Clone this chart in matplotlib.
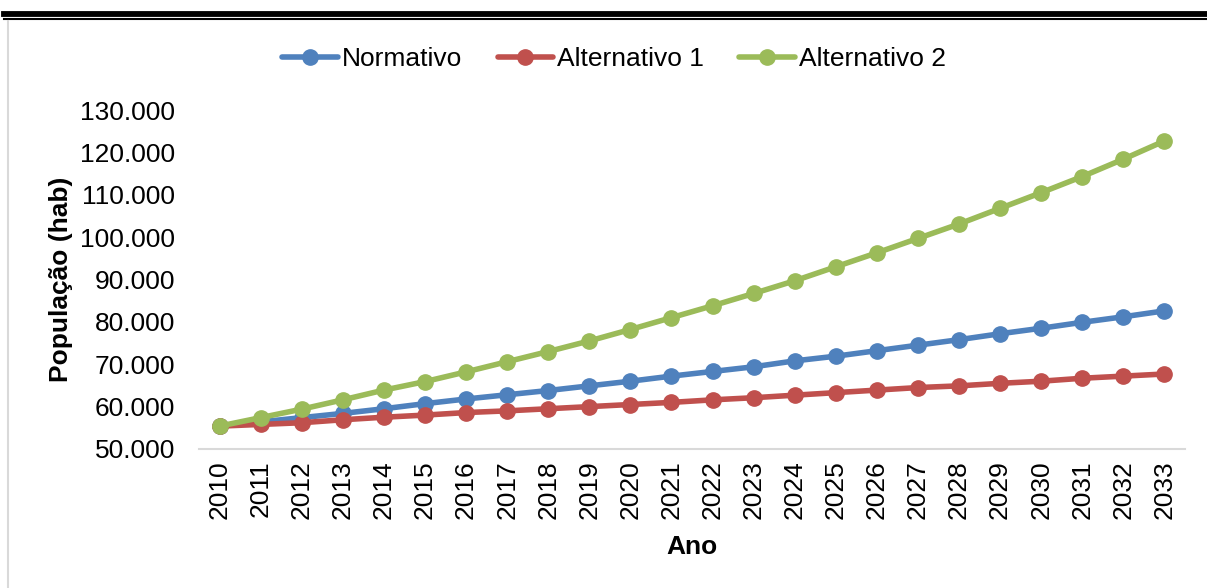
import matplotlib
matplotlib.use("Agg")
import matplotlib.pyplot as plt
from matplotlib.lines import Line2D

plt.rcParams['font.family'] = ['Liberation Sans', 'DejaVu Sans']

anos = list(range(2010, 2034))
normativo = [55.4, 56.4, 57.4, 58.4, 59.5, 60.7, 61.8, 62.8, 63.8, 64.9,
             66.0, 67.2, 68.3, 69.4, 70.8, 71.9, 73.2, 74.5, 75.8, 77.2,
             78.5, 79.9, 81.2, 82.6]
alternativo1 = [55.4, 55.8, 56.2, 56.9, 57.5, 58.0, 58.6, 59.0, 59.5, 60.0,
                60.5, 61.0, 61.6, 62.1, 62.7, 63.3, 63.9, 64.5, 64.9, 65.5,
                66.0, 66.7, 67.2, 67.7]
alternativo2 = [55.4, 57.4, 59.4, 61.6, 63.9, 65.9, 68.2, 70.6, 73.0, 75.5,
                78.2, 81.0, 83.8, 86.7, 89.7, 93.0, 96.3, 99.7, 103.1, 106.8,
                110.5, 114.3, 118.4, 122.7]
series = [("Normativo", normativo, "#4F81BD"),
          ("Alternativo 1", alternativo1, "#C0504D"),
          ("Alternativo 2", alternativo2, "#9BBB59")]
y_ticks = list(range(50000, 130001, 10000))

W, H = 1207, 588
fig = plt.figure(figsize=(W / 100, H / 100), dpi=100)
ax = fig.add_axes([199 / W, 1 - 449 / H, (1185 - 199) / W, (449 - 110) / H])

x = list(range(len(anos)))
for nome, vals, cor in series:
    ax.plot(x, [v * 1000 for v in vals], color=cor, lw=4.0, marker='o',
            markersize=11, label=nome, solid_capstyle='round', zorder=3)

ax.set_xlim(-0.5, len(anos) - 0.5)
ax.set_ylim(50000, 130000)
ax.set_yticks(y_ticks)
ax.set_yticklabels([f"{v // 1000}.000" for v in y_ticks])
ax.set_xticks(x)
ax.set_xticklabels([str(a) for a in anos], rotation=90)
ax.tick_params(axis='both', length=0, labelsize=19)
ax.tick_params(axis='y', pad=17)
ax.tick_params(axis='x', pad=8)
for s in ['top', 'right', 'left']:
    ax.spines[s].set_visible(False)
ax.spines['bottom'].set_color('#D9D9D9')
ax.spines['bottom'].set_linewidth(1.5)

ax.set_ylabel("População (hab)", fontsize=19, fontweight='bold')
ax.yaxis.set_label_coords((73 - 199) / (1185 - 199), 0.5)
ax.set_xlabel("Ano", fontsize=19, fontweight='bold')
ax.xaxis.set_label_coords(0.5, -(535 - 449) / (449 - 110))

fig.legend(loc='center', bbox_to_anchor=(614 / W, 1 - 59 / H), ncol=3,
           frameon=False, fontsize=19, handlelength=2.1, handletextpad=0.15,
           columnspacing=1.35, borderaxespad=0)

# page rules: double line across the top, light rule on the left
fig.add_artist(Line2D([4 / W, 1], [1 - 14 / H] * 2, color='black', lw=4.2,
                      transform=fig.transFigure))
fig.add_artist(Line2D([4 / W, 1], [1 - 18.8 / H] * 2, color='black', lw=1.5,
                      transform=fig.transFigure))
fig.add_artist(Line2D([8 / W, 8 / W], [0, 1 - 21 / H], color='#D9D9D9', lw=1.5,
                      transform=fig.transFigure))

fig.savefig("out.png", dpi=100)
